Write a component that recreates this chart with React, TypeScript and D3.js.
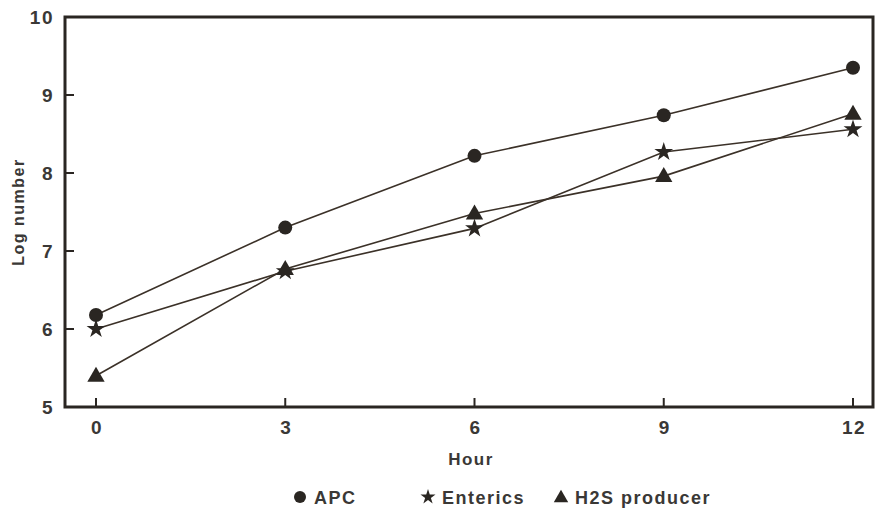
import React from "react";
import * as d3 from "d3";

const hours = [0, 3, 6, 9, 12];
const apc = [6.18, 7.3, 8.22, 8.74, 9.35];
const enterics = [6.0, 6.74, 7.29, 8.27, 8.56];
const h2s = [5.4, 6.77, 7.48, 7.96, 8.76];
const yTicks = [5, 6, 7, 8, 9, 10];
const xTicks = [0, 3, 6, 9, 12];
const legendLabels = ["APC", "Enterics", "H2S producer"];

const W = 875;
const H = 509;
const ink = "#2a2622";
const lineInk = "#3b3128";
const textInk = "#3a3836";
const font = "'Liberation Sans', Arial, sans-serif";

export default function App() {
  const x = d3.scaleLinear().domain([0, 12]).range([96, 853]);
  const y = d3.scaleLinear().domain([5, 10]).range([407, 17]);
  const left = 65;
  const right = 873;
  const line = d3
    .line<[number, number]>()
    .x((d) => x(d[0]))
    .y((d) => y(d[1]));
  const series = [apc, enterics, h2s];
  const star = d3.symbol().type(d3.symbolStar).size(110)();
  const tri = d3.symbol().type(d3.symbolTriangle).size(130)();

  const marker = (k: number, cx: number, cy: number, key: string) => {
    if (k === 0) return <circle key={key} cx={cx} cy={cy} r={7} fill={ink} />;
    if (k === 1) return <path key={key} d={star!} transform={`translate(${cx},${cy})`} fill={ink} />;
    return <path key={key} d={tri!} transform={`translate(${cx},${cy + 1})`} fill={ink} />;
  };

  return (
    <svg
      width={W}
      height={H}
      style={{ position: "absolute", left: 0, top: 0, background: "#fff" }}
      fontFamily={font}
    >
      {/* frame */}
      <path
        d={`M${left},${y(5)} L${left},${y(10)} L${right},${y(10)} L${right},${y(5)} Z`}
        fill="none"
        stroke={ink}
        strokeWidth={3}
      />
      {/* y ticks */}
      {yTicks.map((t) => (
        <g key={"y" + t}>
          {t > 5 && t < 10 && (
            <line x1={left} x2={left + 9} y1={y(t)} y2={y(t)} stroke={ink} strokeWidth={2} />
          )}
          <text
            x={54}
            y={y(t)}
            dy="0.36em"
            textAnchor="end"
            fontSize={19}
            fontWeight="bold"
            letterSpacing={1.5}
            fill={textInk}
          >
            {t}
          </text>
        </g>
      ))}
      {/* x ticks */}
      {xTicks.map((t) => (
        <g key={"x" + t}>
          <line x1={x(t)} x2={x(t)} y1={y(5)} y2={y(5) - 9} stroke={ink} strokeWidth={2} />
          <text
            x={x(t) + 1}
            y={y(5) + 27}
            textAnchor="middle"
            fontSize={19}
            fontWeight="bold"
            letterSpacing={1.5}
            fill={textInk}
          >
            {t}
          </text>
        </g>
      ))}
      <text
        x={471}
        y={465}
        textAnchor="middle"
        fontSize={17}
        fontWeight="bold"
        letterSpacing={1.5}
        fill={textInk}
      >
        Hour
      </text>
      <text
        transform={`translate(24,${(y(5) + y(10)) / 2}) rotate(-90)`}
        textAnchor="middle"
        fontSize={16}
        fontWeight="bold"
        letterSpacing={1.5}
        fill={textInk}
      >
        Log number
      </text>
      {/* series */}
      {series.map((vals, k) => (
        <g key={"s" + k}>
          <path
            d={line(hours.map((h, i) => [h, vals[i]] as [number, number]))!}
            fill="none"
            stroke={lineInk}
            strokeWidth={1.6}
          />
          {hours.map((h, i) => marker(k, x(h), y(vals[i]), `m${k}-${i}`))}
        </g>
      ))}
      {/* legend */}
      {legendLabels.map((lab, k) => {
        const lx = [300, 428, 561][k];
        return (
          <g key={"l" + k}>
            {k === 0 && <circle cx={lx} cy={497} r={6} fill={ink} />}
            {k === 1 && (
              <path
                d={d3.symbol().type(d3.symbolStar).size(70)()!}
                transform={`translate(${lx},${497})`}
                fill={ink}
              />
            )}
            {k === 2 && (
              <path
                d={d3.symbol().type(d3.symbolTriangle).size(90)()!}
                transform={`translate(${lx},${498})`}
                fill={ink}
              />
            )}
            <text
              x={lx + 14}
              y={504}
              fontSize={18}
              fontWeight="bold"
              letterSpacing={1.5}
              fill={textInk}
            >
              {lab}
            </text>
          </g>
        );
      })}
    </svg>
  );
}
